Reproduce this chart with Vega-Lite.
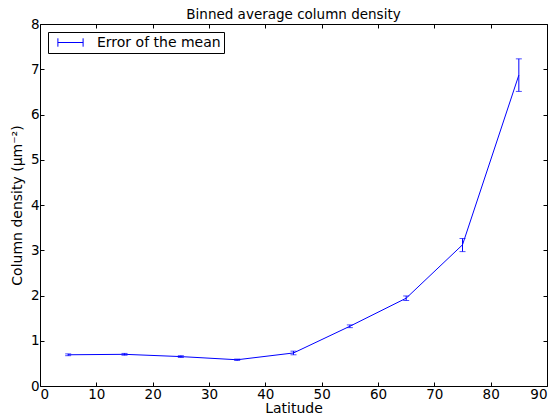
{
  "$schema": "https://vega.github.io/schema/vega-lite/v6.json",
  "autosize": "none",
  "width": 507,
  "height": 362,
  "padding": {"left": 40, "top": 24, "right": 8, "bottom": 32},
  "background": "white",
  "title": {"text": "Binned average column density", "font": "DejaVu Sans", "fontSize": 13.5, "fontWeight": "normal", "color": "black", "offset": -4},
  "config": {
    "view": {"stroke": "black", "strokeWidth": 1},
    "font": "DejaVu Sans",
    "axis": {"grid": false, "domain": false, "tickColor": "black", "tickSize": -4, "labelPadding": 5, "labelFont": "DejaVu Sans", "labelFontSize": 13.5, "labelColor": "black", "titleFont": "DejaVu Sans", "titleFontSize": 14, "titleFontWeight": "normal", "titleColor": "black"}
  },
  "data": {"values": [
    {"lat": 5, "mean": 0.69, "lo": 0.67, "hi": 0.71},
    {"lat": 15, "mean": 0.70, "lo": 0.68, "hi": 0.72},
    {"lat": 25, "mean": 0.65, "lo": 0.63, "hi": 0.67},
    {"lat": 35, "mean": 0.58, "lo": 0.565, "hi": 0.595},
    {"lat": 45, "mean": 0.73, "lo": 0.69, "hi": 0.77},
    {"lat": 55, "mean": 1.32, "lo": 1.29, "hi": 1.35},
    {"lat": 65, "mean": 1.94, "lo": 1.89, "hi": 1.99},
    {"lat": 75, "mean": 3.12, "lo": 2.97, "hi": 3.26},
    {"lat": 85, "mean": 6.87, "lo": 6.51, "hi": 7.23}
  ]},
  "resolve": {"axis": {"x": "independent", "y": "independent"}},
  "layer": [
    {
      "mark": {"type": "line", "color": "#0000ff", "strokeWidth": 1},
      "encoding": {
        "x": {"field": "lat", "type": "quantitative", "scale": {"domain": [0, 90], "nice": false}, "axis": {"title": "Latitude", "values": [0,10,20,30,40,50,60,70,80,90], "titlePadding": 1}},
        "y": {"field": "mean", "type": "quantitative", "scale": {"domain": [0, 8], "nice": false}, "axis": {"title": "Column density (μm⁻²)", "values": [0,1,2,3,4,5,6,7,8], "titlePadding": 6}}
      }
    },
    {
      "mark": {"type": "rule", "strokeWidth": 1},
      "encoding": {
        "x": {"field": "lat", "type": "quantitative", "axis": {"orient": "top", "labels": false, "title": null, "values": [0,10,20,30,40,50,60,70,80,90]}},
        "y": {"field": "lo", "type": "quantitative", "axis": {"orient": "right", "labels": false, "title": null, "values": [0,1,2,3,4,5,6,7,8]}},
        "y2": {"field": "hi"},
        "color": {"datum": "Error of the mean", "type": "nominal", "scale": {"range": ["#0000ff"]},
          "legend": {"title": null, "orient": "top-left", "offset": 8, "strokeColor": "black", "fillColor": "white", "padding": 3, "cornerRadius": 0,
            "symbolType": "M-1.8,-0.6V0.6M-1.8,0H1.8M1.8,-0.6V0.6", "symbolSize": 196, "symbolStrokeWidth": 1, "symbolFillColor": "transparent", "symbolOffset": 12,
            "labelFont": "DejaVu Sans", "labelFontSize": 14, "labelColor": "black", "labelOffset": 19}}
      }
    },
    {
      "mark": {"type": "tick", "orient": "horizontal", "size": 6, "thickness": 1, "color": "#0000ff"},
      "encoding": {
        "x": {"field": "lat", "type": "quantitative", "axis": null},
        "y": {"field": "lo", "type": "quantitative", "axis": null}
      }
    },
    {
      "mark": {"type": "tick", "orient": "horizontal", "size": 6, "thickness": 1, "color": "#0000ff"},
      "encoding": {
        "x": {"field": "lat", "type": "quantitative", "axis": null},
        "y": {"field": "hi", "type": "quantitative", "axis": null}
      }
    }
  ]
}
